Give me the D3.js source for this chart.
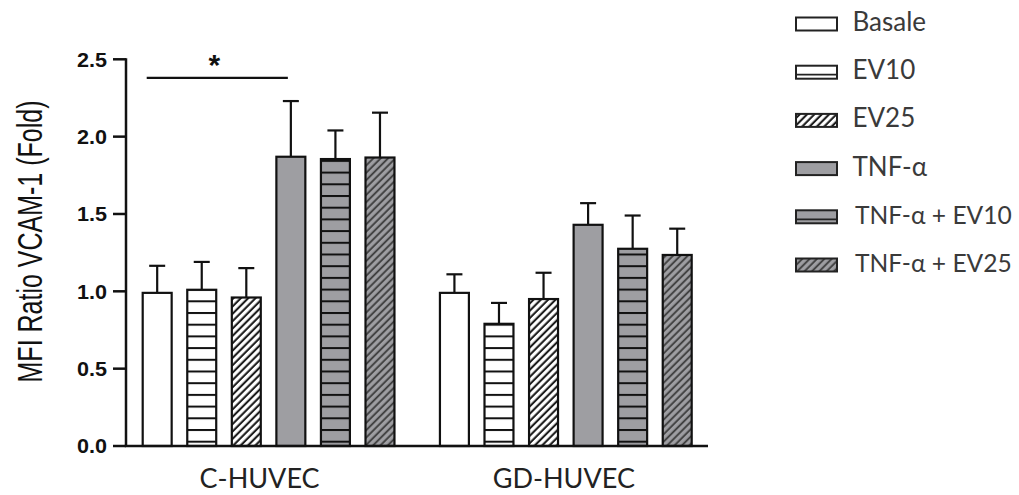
<!DOCTYPE html>
<html><head><meta charset="utf-8">
<script src="https://cdn.jsdelivr.net/npm/d3@7"></script>
<style>html,body{margin:0;padding:0;background:#fff;}svg{display:block;}</style>
</head><body>
<svg id="chart" width="1019" height="495"></svg>
<script>
const groups = ["C-HUVEC", "GD-HUVEC"];
const series = ["Basale", "EV10", "EV25", "TNF-α", "TNF-α + EV10", "TNF-α + EV25"];
const meanC = [0.99, 1.01, 0.96, 1.87, 1.855, 1.865];
const errC  = [1.165, 1.19, 1.15, 2.23, 2.04, 2.155];
const meanGD = [0.99, 0.79, 0.95, 1.43, 1.275, 1.235];
const errGD  = [1.11, 0.925, 1.12, 1.57, 1.49, 1.405];
const yTicks = [0.0, 0.5, 1.0, 1.5, 2.0, 2.5];
const seriesFill = ["white", "white", "white", "gray", "gray", "gray"];
const seriesHatch = ["none", "horiz", "diag", "none", "horiz", "diag"];
const sigFrom = ["C-HUVEC", "Basale"], sigTo = ["C-HUVEC", "TNF-α"], sigLevel = 2.38, sigLabel = "*";

const GRAY = "#9e9ea2";
const svg = d3.select("#chart");
const defs = svg.append("defs");

function hPattern(id, bg) {
  const p = defs.append("pattern").attr("id", id).attr("patternUnits", "userSpaceOnUse")
    .attr("width", 10).attr("height", 11.7);
  p.append("rect").attr("width", 10).attr("height", 11.7).attr("fill", bg);
  p.append("line").attr("x1", 0).attr("x2", 10).attr("y1", 8.8).attr("y2", 8.8)
    .attr("stroke", "#111").attr("stroke-width", 2);
}
function dPattern(id, bg, fg, sw) {
  const p = defs.append("pattern").attr("id", id).attr("patternUnits", "userSpaceOnUse")
    .attr("width", 5.2).attr("height", 10).attr("patternTransform", "rotate(45)");
  p.append("rect").attr("width", 5.2).attr("height", 10).attr("fill", bg);
  p.append("line").attr("x1", 1.5).attr("x2", 1.5).attr("y1", 0).attr("y2", 10)
    .attr("stroke", fg).attr("stroke-width", sw);
}
hPattern("hW", "white"); hPattern("hG", GRAY);
dPattern("dW", "white", "#111", 2); dPattern("dG", GRAY, "#3a3a3a", 1.8);

function fillFor(i) {
  const g = seriesFill[i] === "gray";
  if (seriesHatch[i] === "horiz") return g ? "url(#hG)" : "url(#hW)";
  if (seriesHatch[i] === "diag") return g ? "url(#dG)" : "url(#dW)";
  return g ? GRAY : "white";
}

const y = d3.scaleLinear().domain([0, 2.5]).range([446, 59.3]);
const x0 = d3.scaleBand().domain(groups).range([142.7, 691.7]).paddingInner(0.153).paddingOuter(0);
const x1 = d3.scaleBand().domain(series).range([0, x0.bandwidth()]).paddingInner(0.35).paddingOuter(0);

const data = [];
groups.forEach((g, gi) => {
  const m = gi === 0 ? meanC : meanGD, e = gi === 0 ? errC : errGD;
  series.forEach((s, si) => data.push({g, s, si, v: m[si], e: e[si]}));
});

// error bars (behind bars)
const eb = svg.append("g").attr("stroke", "#111").attr("stroke-width", 2.2);
data.forEach(d => {
  const cx = x0(d.g) + x1(d.s) + x1.bandwidth() / 2;
  eb.append("line").attr("x1", cx).attr("x2", cx).attr("y1", y(d.v)).attr("y2", y(d.e));
  eb.append("line").attr("x1", cx - 8).attr("x2", cx + 8).attr("y1", y(d.e)).attr("y2", y(d.e));
});

// bars
svg.append("g").selectAll("rect").data(data).join("rect")
  .attr("x", d => x0(d.g) + x1(d.s))
  .attr("y", d => y(d.v))
  .attr("width", x1.bandwidth())
  .attr("height", d => y(0) - y(d.v))
  .attr("fill", d => fillFor(d.si))
  .attr("stroke", "#111").attr("stroke-width", 2.2);

// axes
const ax = svg.append("g");
ax.append("line").attr("x1", 126).attr("x2", 126).attr("y1", y(2.5) - 1).attr("y2", y(0))
  .attr("stroke", "#111").attr("stroke-width", 2.5);
ax.append("line").attr("x1", 124.75).attr("x2", 708).attr("y1", y(0)).attr("y2", y(0))
  .attr("stroke", "#111").attr("stroke-width", 2.5);
yTicks.forEach(t => {
  ax.append("line").attr("x1", 113).attr("x2", 126).attr("y1", y(t)).attr("y2", y(t))
    .attr("stroke", "#111").attr("stroke-width", 2.5);
  ax.append("text").attr("x", 107).attr("y", y(t) + 7.2)
    .attr("text-anchor", "end").attr("font-family", "Liberation Sans, Arial, sans-serif")
    .attr("font-weight", "bold").attr("font-size", 20).attr("fill", "#111")
    .attr("textLength", 30).attr("lengthAdjust", "spacingAndGlyphs")
    .text(t.toFixed(1));
});

// y label
svg.append("text")
  .attr("transform", `translate(41.5,${(100 + 383) / 2}) scale(1.4,1) rotate(-90)`)
  .attr("text-anchor", "middle").attr("font-family", "Liberation Sans, Arial, sans-serif")
  .attr("font-size", 25).attr("fill", "#111")
  .text("MFI Ratio VCAM-1 (Fold)");

// group labels
const labelShift = [-9, -2];
svg.append("g").selectAll("text").data(groups).join("text")
  .attr("x", (g, i) => x0(g) + x0.bandwidth() / 2 + labelShift[i])
  .attr("y", 488)
  .attr("text-anchor", "middle").attr("font-family", "Lato, sans-serif")
  .attr("font-size", 27).attr("fill", "#222")
  .text(g => g);

// significance
const sx1 = x0(sigFrom[0]) + x1(sigFrom[1]) + 4, sx2 = x0(sigTo[0]) + x1(sigTo[1]) + x1.bandwidth() / 2 - 3;
svg.append("line").attr("x1", sx1).attr("x2", sx2).attr("y1", y(sigLevel)).attr("y2", y(sigLevel))
  .attr("stroke", "#111").attr("stroke-width", 2.2);
svg.append("text").attr("x", (sx1 + sx2) / 2 - 3).attr("y", y(sigLevel) - 3)
  .attr("text-anchor", "middle").attr("font-family", "Liberation Sans, Arial, sans-serif")
  .attr("font-weight", "bold").attr("font-size", 30).attr("fill", "#111").text(sigLabel);

// legend
const legY = d3.scalePoint().domain(series).range([24, 265]);
const lg = svg.append("g");
series.forEach((s, i) => {
  const cy = legY(s);
  const bg = seriesFill[i] === "gray" ? GRAY : "white";
  lg.append("rect").attr("x", 796).attr("y", cy - 6.5).attr("width", 41).attr("height", 13)
    .attr("fill", seriesHatch[i] === "diag" ? fillFor(i) : bg)
    .attr("stroke", "#222").attr("stroke-width", 2);
  if (seriesHatch[i] === "horiz") {
    lg.append("line").attr("x1", 796).attr("x2", 837).attr("y1", cy + 2.5).attr("y2", cy + 2.5)
      .attr("stroke", "#222").attr("stroke-width", 1.8);
  }
  const tx = i >= 4 ? 855 : 852.5;
  const t = lg.append("text").attr("x", tx).attr("y", cy + 7)
    .attr("font-family", "Lato, sans-serif").attr("font-size", 26).attr("fill", "#3a3a3a")
    .text(s);
  const maxW = 1012 - tx;
  const w = t.node().getComputedTextLength();
  if (w > maxW) t.attr("font-size", Math.floor(26 * maxW / w * 10) / 10);
});
</script>
</body></html>
